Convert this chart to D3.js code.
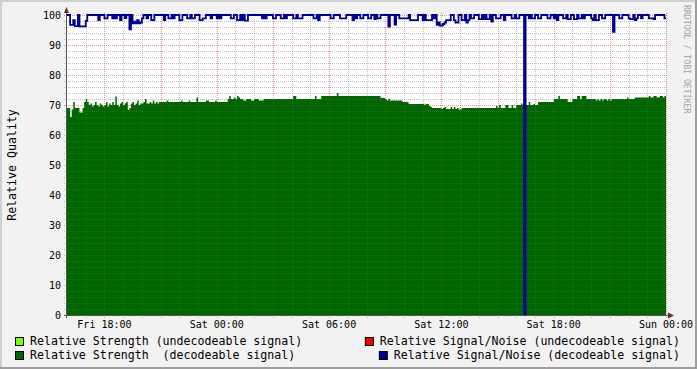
<!DOCTYPE html>
<html>
<head>
<meta charset="utf-8">
<script src="https://cdn.jsdelivr.net/npm/d3@7"></script>
<style>
  html, body { margin: 0; padding: 0; background: #f2f2f2; }
  svg { display: block; font-family: "DejaVu Sans Mono", monospace; }
</style>
</head>
<body>
<script>
// 5 minute samples, Fri 16:00 .. Sun 00:00 (one row per hour)
const start = Date.UTC(2024, 2, 1, 16, 0);
const end = Date.UTC(2024, 2, 3, 0, 0);
const stepMs = 5 * 60 * 1000;

const strength = [
  69, 69, 66, 68.5, 71, 69, 69, 69, 67.5, 67.5, 69, 71,
  72, 71, 70, 70.5, 69.5, 70, 71, 70, 69.5, 70.5, 70, 69.5,
  70, 71, 69.5, 70.5, 70, 71, 70, 72.8, 70, 69.5, 70.5, 71,
  70, 70.5, 71, 68.3, 69, 70.5, 71, 70, 70.5, 71.5, 70, 70.5,
  70.5, 71, 72, 70.5, 70.5, 71, 70.5, 71.5, 70.5, 71, 70.5, 71,
  71, 71, 71, 71, 71.5, 71, 71, 71, 71, 71, 71, 71,
  71, 71.5, 71, 71, 71, 71, 71.5, 71, 71, 71, 71, 72.5,
  71, 71, 71, 71, 71, 71.5, 71.5, 71, 71, 71, 71, 71.5,
  71, 71, 71, 71, 71, 71, 71, 72, 73, 72, 72, 72.5,
  72, 73, 72.5, 72, 72, 71.5, 71.5, 72, 72, 72, 71.5, 71.5,
  72, 72, 72, 71.5, 71.5, 71.5, 72, 72, 72, 72, 72, 72,
  72, 72, 72, 72, 72, 72, 72, 72, 72, 72, 72, 72,
  72, 73, 73, 72, 72, 72, 72, 72, 72, 72, 72, 72,
  72, 72, 72, 73, 72, 72, 72, 73, 73, 73, 73, 73,
  73, 73, 73, 73, 73, 74, 73, 73, 73, 73, 73, 73,
  73, 73, 73, 73, 73, 73, 73, 73, 73, 73, 73, 73,
  73, 73, 73, 73, 73, 73, 73, 73, 73, 72.3, 72.3, 72.3,
  72, 71.5, 72, 71.5, 71.5, 71.5, 71.5, 71.5, 71.5, 71.5, 71.5, 71,
  71, 71, 71, 70.3, 70.3, 70.3, 70.3, 70.3, 70.3, 70.3, 70.3, 70.3,
  70.3, 70, 70.3, 70.3, 69.7, 69.3, 69, 69, 69, 69, 69, 69,
  68.7, 69, 69.3, 68.7, 68.7, 68.7, 69.3, 68.7, 69.3, 68.7, 69, 68.5,
  68.5, 69, 69, 69, 69, 69, 69, 69, 69, 69, 69, 69,
  69, 69, 69, 69, 69, 69, 69, 69, 69, 69, 69, 69.7,
  69, 70, 69, 69, 69, 70, 70, 69, 69, 70, 69, 69,
  70, 70, 70, 70.5, 70, 70, 70, 70, 71, 70, 70, 70.3,
  70, 70, 71, 71, 71, 71, 71, 71, 71, 71, 71, 71,
  72, 72, 72, 73, 72, 72, 72, 72, 72, 71, 71, 71,
  72, 72, 72, 73, 73, 72, 73, 73, 73, 72, 72, 72,
  72, 72, 72, 71.5, 72, 71.5, 72, 71.5, 72, 72, 71.5, 72,
  71.5, 72, 72, 72, 72, 72, 72, 72, 72, 72, 72, 72.5,
  72, 72, 72, 72, 72.5, 72.5, 72.5, 72.5, 72.5, 72.5, 72.5, 72.5,
  72.5, 73, 72.5, 72.5, 73, 73, 72.5, 72.5, 73, 73, 72.5, 73
];

const snr = [
  100, 100, 96.7, 96.7, 98.3, 96.3, 96.3, 100, 96.2, 96.2, 96.2, 96.2,
  98, 100, 100, 100, 100, 100, 100, 100, 98.3, 100, 100, 100,
  98.9, 98.9, 100, 100, 100, 98.9, 100, 98.9, 100, 100, 98.3, 100,
  100, 99, 100, 100, 95.2, 100, 97.2, 97.8, 97.2, 98.3, 97.2, 97.5,
  98.9, 100, 100, 98.9, 100, 100, 98.3, 98.3, 100, 100, 100, 100,
  100, 100, 98.3, 100, 100, 98.9, 98.9, 100, 98.9, 100, 100, 100,
  98.3, 98.3, 100, 100, 100, 98.9, 98.9, 100, 98.9, 98.9, 100, 100,
  100, 98.3, 98.3, 98.9, 98.9, 100, 100, 100, 98.9, 100, 100, 100,
  98.9, 100, 98.9, 100, 100, 100, 100, 100, 100, 98.9, 98.9, 100,
  100, 98.3, 98.3, 100, 98.3, 100, 98.1, 98.1, 100, 100, 100, 100,
  100, 100, 100, 100, 100, 98.9, 100, 98.9, 100, 100, 100, 100,
  98.9, 98.9, 100, 100, 100, 98.9, 98.9, 100, 98.9, 100, 100, 100,
  100, 98.9, 98.9, 100, 98.9, 98.9, 98.9, 100, 100, 100, 100, 100,
  100, 100, 98.9, 98.9, 100, 98.3, 100, 100, 100, 100, 100, 100,
  100, 98.9, 98.9, 100, 100, 100, 100, 98.9, 98.9, 98.9, 98.9, 100,
  100, 100, 100, 98.3, 100, 98.9, 100, 100, 98.9, 98.9, 100, 100,
  100, 98.9, 98.9, 100, 100, 98.6, 100, 98.9, 98.9, 100, 100, 100,
  100, 100, 96.1, 100, 100, 100, 96.8, 100, 100, 98.9, 98.9, 98.9,
  98.9, 98.9, 98.9, 100, 98.3, 98.3, 98.3, 98.3, 98.3, 100, 100, 100,
  98.3, 100, 98.3, 98.3, 98.3, 98.3, 100, 98.9, 100, 96.7, 97.5, 96.5,
  96.5, 97, 97.5, 98.3, 98.3, 98.3, 100, 100, 98.3, 97.5, 97.5, 100,
  100, 98.3, 98.3, 100, 97.5, 98.3, 100, 98.9, 98.9, 100, 100, 100,
  98.6, 98.6, 100, 98.6, 100, 98.6, 98.6, 100, 97.8, 100, 100, 98.9,
  98.9, 98.9, 100, 100, 98.3, 100, 100, 100, 100, 98.9, 98.9, 100,
  98.9, 98.9, 100, 100, 100, 0, 100, 100, 98.9, 100, 98.9, 98.9,
  100, 100, 98.9, 98.9, 100, 100, 100, 100, 98.9, 98.9, 100, 100,
  98.9, 100, 98.3, 100, 100, 100, 98.9, 98.9, 100, 98.6, 98.6, 100,
  100, 98.6, 98.6, 100, 98.9, 98.9, 100, 98.9, 100, 100, 100, 100,
  98.9, 98.3, 100, 98.3, 98.3, 100, 100, 98.9, 98.9, 100, 100, 100,
  100, 100, 94.4, 100, 100, 100, 98.9, 98.9, 100, 100, 100, 100,
  98.9, 98.6, 98.6, 100, 98.3, 98.9, 100, 100, 98.9, 100, 100, 100,
  100, 98.9, 98.9, 98.9, 98.6, 100, 100, 100, 100, 100, 100, 98.9
];

// undecodeable samples: [sample index, value]
const weakStrength = [[229, 70.5]];
const weakSnr = [];

const yTicks = [0, 10, 20, 30, 40, 50, 60, 70, 80, 90, 100];
const legendLabels = [
  "Relative Strength (undecodeable signal)",
  "Relative Signal/Noise (undecodeable signal)",
  "Relative Strength  (decodeable signal)",
  "Relative Signal/Noise (decodeable signal)"
];
const legendColors = ["#80ff00", "#ff0000", "#006600", "#000094"];

const width = 697;
const height = 369;

const x = d3.scaleUtc([start, end], [67, 666]);
const y = d3.scaleLinear([0, 100], [315, 15]);

const series = (vals) => {
  const pts = vals.map((v, i) => [start + i * stepMs, v]);
  pts.push([end, vals[vals.length - 1]]);
  return pts;
};

const svg = d3.create("svg").attr("width", width).attr("height", height);
document.body.appendChild(svg.node());

svg.append("rect").attr("width", width).attr("height", height).attr("fill", "#f2f2f2");
svg.append("path").attr("d", `M0,0H${width}V2H2V${height}H0Z`).attr("fill", "#cfcfcf");
svg.append("path").attr("d", `M${width},${height}H0V${height - 2}H${width - 2}V0H${width}Z`).attr("fill", "#9e9e9e");

// canvas
svg.append("rect")
  .attr("x", x.range()[0]).attr("y", y(100))
  .attr("width", x.range()[1] - x.range()[0]).attr("height", y(0) - y(100))
  .attr("fill", "#fff");

// dotted grid, drawn twice: under the area and faintly over it
const hours = d3.utcHour.range(start + 3600e3, end + 1);
const hVals = d3.range(2, 101, 2);
function drawGrid(alpha) {
  const minorCol = `rgba(150,150,150,${alpha})`;
  const majorCol = `rgba(222,79,79,${alpha})`;
  const grid = svg.append("g").attr("stroke-dasharray", "1,1").attr("shape-rendering", "crispEdges");
  grid.selectAll("line.v")
    .data(hours)
    .join("line")
    .attr("x1", (d) => Math.round(x(d)) + 0.5)
    .attr("x2", (d) => Math.round(x(d)) + 0.5)
    .attr("y1", y(100) - 2)
    .attr("y2", y(0) + 3)
    .attr("stroke", (d) => (d.getUTCHours() % 3 === 0 ? majorCol : minorCol));
  grid.selectAll("line.h")
    .data(hVals)
    .join("line")
    .attr("x1", x.range()[0] - 3)
    .attr("x2", x.range()[1] + 2)
    .attr("y1", (d) => Math.round(y(d)) + 0.5)
    .attr("y2", (d) => Math.round(y(d)) + 0.5)
    .attr("stroke", (d) => (d % 10 === 0 ? majorCol : minorCol));
}
drawGrid(0.5);

const area = d3.area()
  .curve(d3.curveStepAfter)
  .x((d) => x(d[0]))
  .y0(y(0))
  .y1((d) => y(d[1]));

// undecodeable strength (light green), as short steps
svg.append("g")
  .selectAll("path")
  .data(weakStrength)
  .join("path")
  .attr("fill", legendColors[0])
  .attr("d", (d) => area([[start + d[0] * stepMs, d[1]], [start + (d[0] + 1) * stepMs, d[1]]]));

svg.append("path")
  .attr("fill", legendColors[2])
  .attr("d", area(series(strength)));

drawGrid(0.2);

// undecodeable S/N (none in this period)
const line = d3.line()
  .curve(d3.curveStepAfter)
  .x((d) => x(d[0]))
  .y((d) => y(d[1]));

svg.append("g")
  .selectAll("path")
  .data(weakSnr)
  .join("path")
  .attr("fill", "none")
  .attr("stroke", legendColors[1])
  .attr("stroke-width", 2)
  .attr("d", (d) => line([[start + d[0] * stepMs, d[1]], [start + (d[0] + 1) * stepMs, d[1]]]));

svg.append("path")
  .attr("fill", "none")
  .attr("stroke", legendColors[3])
  .attr("stroke-width", 1.8)
  .attr("d", line(series(snr)));

// axes
const axis = svg.append("g").attr("shape-rendering", "crispEdges");
axis.append("line")
  .attr("x1", x.range()[0] - 3).attr("x2", x.range()[1] + 3)
  .attr("y1", y(0) + 0.5).attr("y2", y(0) + 0.5)
  .attr("stroke", "#555");
axis.append("line")
  .attr("x1", x.range()[0] - 0.5).attr("x2", x.range()[0] - 0.5)
  .attr("y1", y(0) + 3).attr("y2", y(100) - 3)
  .attr("stroke", "#555");
svg.append("path")
  .attr("fill", "#801f1f")
  .attr("d", `M${x.range()[0] - 3},${y(100) - 2}L${x.range()[0] + 2},${y(100) - 2}L${x.range()[0] - 0.5},${y(100) - 8}Z`);
svg.append("path")
  .attr("fill", "#801f1f")
  .attr("d", `M${x.range()[1] + 2},${y(0) - 2.5}L${x.range()[1] + 2},${y(0) + 3.5}L${x.range()[1] + 8},${y(0) + 0.5}Z`);

// y labels
svg.append("g")
  .attr("font-size", 10)
  .attr("text-anchor", "end")
  .selectAll("text")
  .data(yTicks)
  .join("text")
  .attr("x", 61)
  .attr("y", (d) => y(d))
  .attr("dy", "0.36em")
  .text((d) => d);

// x labels
const fmt = d3.utcFormat("%a %H:%M");
svg.append("g")
  .attr("font-size", 10)
  .attr("text-anchor", "middle")
  .selectAll("text")
  .data(x.ticks(d3.utcHour.every(6)))
  .join("text")
  .attr("x", (d) => x(d))
  .attr("y", 328)
  .text(fmt);

svg.append("text")
  .attr("font-size", 11.6)
  .attr("text-anchor", "middle")
  .attr("transform", `translate(16,${(y(0) + y(100)) / 2}) rotate(-90)`)
  .text("Relative Quality");

svg.append("text")
  .attr("font-size", 8.2)
  .attr("fill", "#a4a4a4")
  .attr("transform", "translate(684,5) rotate(90)")
  .text("RRDTOOL / TOBI OETIKER");

// legend
const legend = svg.append("g").attr("font-size", 11.6);
legendLabels.forEach((label, i) => {
  const row = Math.floor(i / 2);
  const right = i % 2 === 1;
  const baseY = 345 + row * 14;
  const t = legend.append("text")
    .attr("y", baseY)
    .style("white-space", "pre")
    .text(label);
  let tx = 30;
  if (right) {
    tx = 680 - t.node().getComputedTextLength();
  }
  t.attr("x", tx);
  legend.append("rect")
    .attr("x", tx - 14.5)
    .attr("y", baseY - 7.5)
    .attr("width", 8)
    .attr("height", 8)
    .attr("fill", legendColors[i])
    .attr("stroke", "#000")
    .attr("stroke-width", 1);
});
</script>
</body>
</html>
